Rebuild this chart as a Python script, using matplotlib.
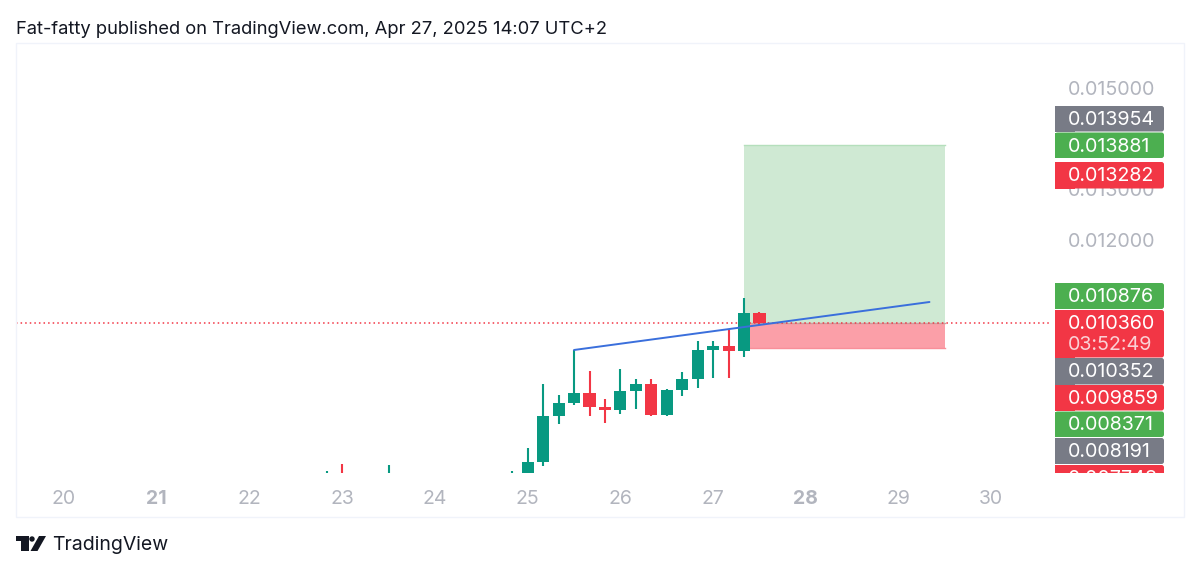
import matplotlib
matplotlib.use("Agg")
import matplotlib.pyplot as plt
from matplotlib.patches import FancyBboxPatch, Rectangle, Polygon, Circle

W, H = 1200, 572

# candles, 4h bars, x is day of month
days = [22.833, 23.0, 23.5, 24.833, 25.0, 25.167, 25.333, 25.5, 25.667, 25.833, 26.0, 26.167,
        26.333, 26.5, 26.667, 26.833, 27.0, 27.167, 27.333, 27.5]
opens = [0.00740, 0.00758, 0.00730, 0.00730, 0.00740, 0.007625, 0.008533, 0.008783, 0.008974, 0.008704,
         0.008645, 0.009027, 0.009158, 0.008547, 0.009047, 0.009250, 0.009836, 0.009902, 0.009810, 0.010566]
closes = [0.00744, 0.00730, 0.00756, 0.00745, 0.007625, 0.008533, 0.008790, 0.008974, 0.008704, 0.008645,
          0.009027, 0.009158, 0.008547, 0.009047, 0.009250, 0.009836, 0.009902, 0.009810, 0.010566, 0.010369]
highs = [0.00744, 0.00758, 0.00756, 0.00745, 0.007889, 0.009152, 0.008948, 0.009829, 0.009421, 0.008869,
         0.009454, 0.009264, 0.009264, 0.009053, 0.009402, 0.010007, 0.010007, 0.010224, 0.010862, 0.010586]
lows = [0.00730, 0.00730, 0.00730, 0.00730, 0.007395, 0.007540, 0.008362, 0.008750, 0.008527, 0.008395,
        0.008573, 0.008672, 0.008527, 0.008533, 0.008928, 0.009086, 0.009277, 0.009270, 0.009698, 0.010323]

GREEN = "#089981"
RED = "#f23645"
LABEL_GREEN = "#4caf50"
GRAY = "#787b86"
TICK = "#b2b5be"

# long position tool
pos_x = [27.333, 29.5]
entry = 0.010360
target = 0.013881
stop = 0.009859

# trend line
line_x = [25.5, 29.333]
line_y = [0.009829, 0.010776]

date_ticks = [20, 21, 22, 23, 24, 25, 26, 27, 28, 29, 30]
bold_dates = [21, 28]
price_ticks = [0.015, 0.013, 0.012]

# scale labels: text, colour, top px, bottom px
tags = ["0.013954", "0.013881", "0.013282", "0.010876", "0.010360", "0.010352", "0.009859", "0.008371", "0.008191", "0.007748"]
tag_colors = [GRAY, LABEL_GREEN, RED, LABEL_GREEN, RED, GRAY, RED, LABEL_GREEN, GRAY, RED]
tag_tops = [106, 132.5, 162, 283, 310, 358, 385, 411.5, 438, 465]
tag_bottoms = [131.5, 158, 188.5, 309, 357.5, 384.5, 410.5, 437, 464, 491]

plt.rcParams["font.family"] = ["Inter", "DejaVu Sans"]
fig = plt.figure(figsize=(W / 100, H / 100), dpi=100, facecolor="white")

# price pane 16..1050 x 43..473 px
ax = fig.add_axes([16 / W, 1 - 473 / H, (1050 - 16) / W, (473 - 43) / H])
ax.set_xlim(19.482, 30.633)
ax.set_ylim(0.007401, 0.015888)
for s in ax.spines.values():
    s.set_visible(False)

ax.add_patch(Rectangle((pos_x[0], entry), pos_x[1] - pos_x[0], target - entry, color="#cfe9d3", lw=0, zorder=1))
ax.add_patch(Rectangle((pos_x[0], stop), pos_x[1] - pos_x[0], entry - stop, color="#fb9fa8", lw=0, zorder=1))
ax.plot(pos_x, [target, target], color="#b5dfbc", lw=1, zorder=1.5)
ax.plot(pos_x, [stop, stop], color="#f98f99", lw=1, zorder=1.5)
ax.plot(pos_x, [entry, entry], color="#c9a0a0", lw=1, zorder=1.5)

ax.axhline(entry, color=RED, lw=1.1, ls=(0, (1, 2)), zorder=2)

for d, o, c, h, l in zip(days, opens, closes, highs, lows):
    col = GREEN if c >= o else RED
    ax.vlines(d, l, h, color=col, lw=1.5, zorder=3)
    if d > 24.9:
        ax.bar(d, abs(c - o), bottom=min(o, c), width=0.13, color=col, lw=0, zorder=3)

ax.plot(line_x, line_y, color="#3a6fdc", lw=1.4, zorder=4, solid_capstyle="round")

ax.set_xticks(date_ticks)
ax.set_xticklabels([str(d) for d in date_ticks], fontsize=14, color=TICK)
for lab, d in zip(ax.get_xticklabels(), date_ticks):
    if d in bold_dates:
        lab.set_fontweight("bold")
ax.set_yticks(price_ticks)
ax.set_yticklabels([f"{p:.6f}" for p in price_ticks], fontsize=14.2, color=TICK)
ax.yaxis.tick_right()
ax.tick_params(axis="x", length=0, pad=12)
ax.tick_params(axis="y", length=0, pad=13)

# overlay in pixels for frame, tags, header and logo
ov = fig.add_axes([0, 0, 1, 1])
ov.set_xlim(0, W)
ov.set_ylim(H, 0)
ov.axis("off")
ov.patch.set_visible(False)

ov.add_patch(Rectangle((16, 43), 1168, 474, fill=False, ec="#f0f3fa", lw=1))
clip = Rectangle((1040, 43), 140, 430, transform=ov.transData)

for t, col, top, bot in zip(tags, tag_colors, tag_tops, tag_bottoms):
    box = FancyBboxPatch((1055, top), 109, bot - top, boxstyle="round,pad=0,rounding_size=2.5", fc=col, lw=0)
    ov.add_patch(box)
    box.set_clip_path(clip)
    left = Rectangle((1055, top), 20, bot - top, fc=col, lw=0)
    ov.add_patch(left)
    left.set_clip_path(clip)
    y = top + 14
    txt = ov.text(1068, y, t, color="white", fontsize=14.2, ha="left", va="center")
    txt.set_clip_path(clip)
    txt.set_clip_on(True)
ov.text(1068, 345, "03:52:49", color="#fbd0d5", fontsize=14.2, ha="left", va="center")

ov.text(16, 30, "Fat-fatty published on TradingView.com, Apr 27, 2025 14:07 UTC+2", color="#131722",
        fontsize=13.25, ha="left", va="center")

# logo
ov.add_patch(Polygon([(16, 536), (29, 536), (29, 551), (21, 551), (21, 541), (16, 541)], fc="#131722", lw=0))
ov.add_patch(Circle((32, 539), 2.7, fc="#131722", lw=0))
ov.add_patch(Polygon([(39, 536), (46, 536), (37.5, 551), (30.5, 551)], fc="#131722", lw=0))
ov.text(52, 545, "TradingView", color="#131722", fontsize=14, ha="left", va="center")

fig.savefig("out.png", dpi=100, facecolor="white")
